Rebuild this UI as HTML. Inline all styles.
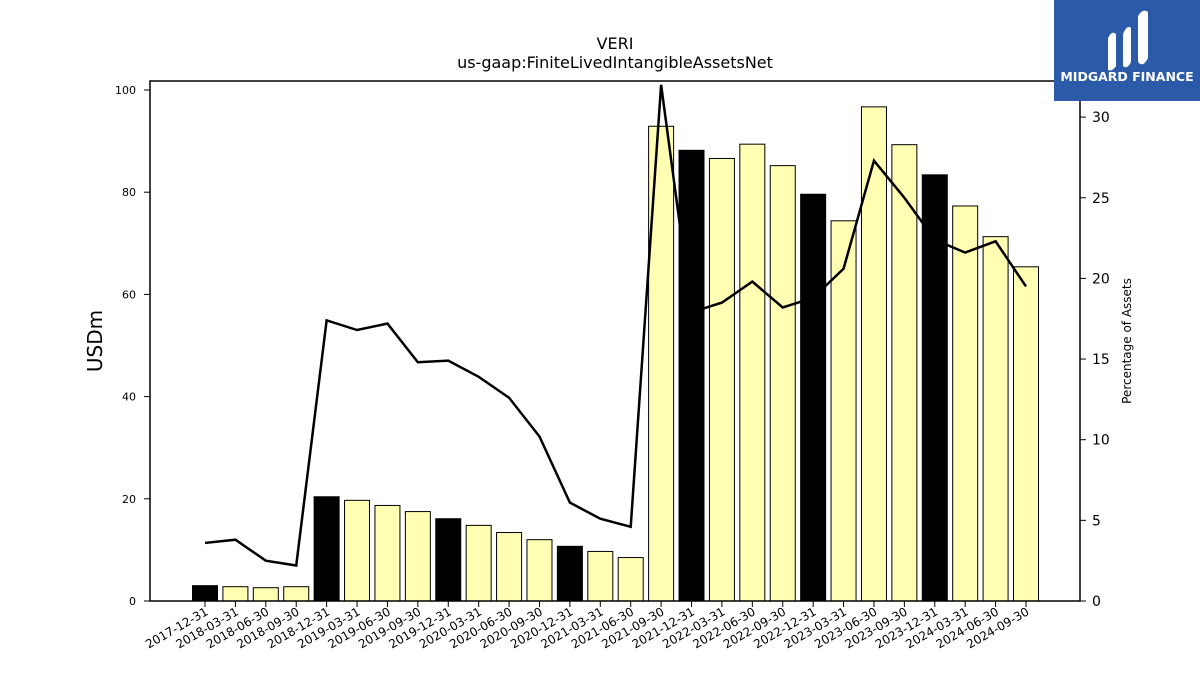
<!DOCTYPE html>
<html><head><meta charset="utf-8"><style>
body{margin:0;background:#fff;font-family:"DejaVu Sans","Liberation Sans",sans-serif}
</style></head><body>
<svg id="chart" width="1200" height="675" xmlns="http://www.w3.org/2000/svg" style="display:block">
<rect width="1200" height="675" fill="#fff"/>
<text x="615" y="49" text-anchor="middle" font-size="16">VERI</text>
<text x="615" y="68" text-anchor="middle" font-size="16">us-gaap:FiniteLivedIntangibleAssetsNet</text>
<g id="bars"></g><g id="line"></g><g id="axes"></g>
<rect x="150" y="81" width="930" height="520" fill="none" stroke="#000" stroke-width="1.5"/>
<text transform="translate(102,341) rotate(-90)" text-anchor="middle" font-size="20">USDm</text>
<text transform="translate(1131,341) rotate(-90)" text-anchor="middle" font-size="12">Percentage of Assets</text>
<g>
<rect x="1054" y="0" width="146" height="101" fill="#2b5aa8"/>
<path d="M1108 70 V38 Q1112 30 1116 34 V66 Q1112 72 1108 70Z M1123 66 V34 Q1127 24 1131 28 V62 Q1127 70 1123 66Z M1138 62 V16 Q1143 8 1148 12 V58 Q1143 68 1138 62Z" fill="#fff"/>
<text x="1127" y="81" text-anchor="middle" font-size="12.5" font-weight="bold" fill="#fff">MIDGARD FINANCE</text>
</g>
</svg>
<script>
const categories=["2017-12-31","2018-03-31","2018-06-30","2018-09-30","2018-12-31","2019-03-31","2019-06-30","2019-09-30","2019-12-31","2020-03-31","2020-06-30","2020-09-30","2020-12-31","2021-03-31","2021-06-30","2021-09-30","2021-12-31","2022-03-31","2022-06-30","2022-09-30","2022-12-31","2023-03-31","2023-06-30","2023-09-30","2023-12-31","2024-03-31","2024-06-30","2024-09-30"];
const values=[3.0,2.8,2.6,2.8,20.4,19.7,18.7,17.5,16.1,14.8,13.4,12.0,10.7,9.7,8.5,92.9,88.2,86.6,89.4,85.2,79.6,74.4,96.7,89.3,83.4,77.3,71.3,65.4];
const pct=[3.6,3.8,2.5,2.2,17.4,16.8,17.2,14.8,14.9,13.9,12.6,10.2,6.1,5.1,4.6,32.0,17.9,18.5,19.8,18.2,18.8,20.6,27.3,25.0,22.4,21.6,22.3,19.5];
const leftTicks=[0,20,40,60,80,100];
const rightTicks=[0,5,10,15,20,25,30];
const NS="http://www.w3.org/2000/svg";
const x=i=>205+i*(1026-205)/(categories.length-1);
const yL=v=>601-v*5.11;
const yR=v=>601-v*16.13;
function mk(t,a,p){const e=document.createElementNS(NS,t);for(const k in a)e.setAttribute(k,a[k]);p.appendChild(e);return e;}
const gb=document.getElementById('bars'),gl=document.getElementById('line'),ga=document.getElementById('axes');
values.forEach((v,i)=>{const b=mk('rect',{x:x(i)-12.5,y:yL(v),width:25,height:601-yL(v),fill:categories[i].endsWith('12-31')?'#000':'#ffffb3',stroke:'#000','stroke-width':1},gb);

});
const pl=mk('polyline',{points:pct.map((v,i)=>x(i)+','+yR(v)).join(' '),fill:'none',stroke:'#000','stroke-width':2.5},gl);


leftTicks.forEach(t=>{mk('line',{x1:144,x2:150,y1:yL(t),y2:yL(t),stroke:'#000'},ga);
const e=mk('text',{x:136,y:yL(t)+4,'text-anchor':'end','font-size':11},ga);e.textContent=t;

});
rightTicks.forEach(t=>{mk('line',{x1:1080,x2:1086,y1:yR(t),y2:yR(t),stroke:'#000'},ga);
const e=mk('text',{x:1092,y:yR(t)+5,'font-size':14},ga);e.textContent=t;

});
categories.forEach((c,i)=>{mk('line',{x1:x(i),x2:x(i),y1:601,y2:607,stroke:'#000'},ga);
const e=mk('text',{transform:`translate(${x(i)+4},${614}) rotate(-30)`,'text-anchor':'end','font-size':12},ga);e.textContent=c;

});
</script>
</body></html>
